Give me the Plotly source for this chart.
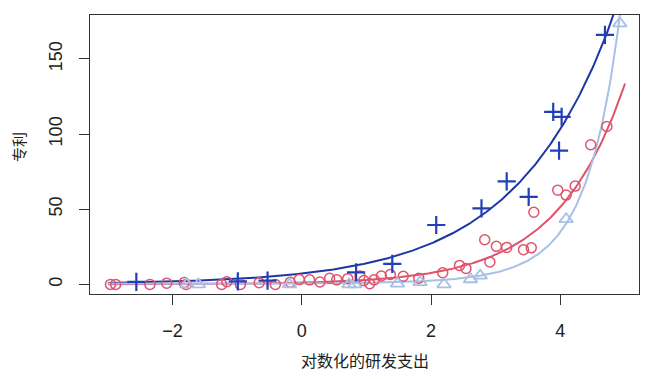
import numpy as np
import plotly.graph_objects as go

# ---- data ----
blue_x = [-2.56, -0.99, -0.53, 0.84, 1.40, 2.08, 2.78, 3.17, 3.51, 3.89, 4.02, 3.98, 4.69]
blue_y = [1.6, 2.0, 2.5, 8.0, 13.7, 39.5, 50.5, 68.5, 58.2, 114.7, 111.4, 89.0, 166.0]

red_x = [-2.96, -2.88, -2.35, -2.09, -1.82, -1.79, -1.24, -1.16, -0.95, -0.66, -0.41,
         -0.18, -0.04, 0.12, 0.28, 0.43, 0.54, 0.71, 0.90, 0.96, 1.05, 1.12, 1.23,
         1.37, 1.57, 1.81, 2.18, 2.44, 2.54, 2.83, 2.91, 3.01, 3.17, 3.43, 3.55,
         3.59, 3.96, 4.09, 4.23, 4.47, 4.72]
red_y = [0.0, 0.0, 0.0, 0.8, 1.2, 0.0, 0.0, 1.8, 0.0, 1.1, 0.0,
         1.4, 3.2, 3.0, 1.6, 4.1, 3.0, 3.8, 5.5, 2.5, 0.5, 3.0, 5.6,
         6.6, 5.4, 4.1, 7.7, 12.6, 10.6, 29.7, 14.9, 25.3, 24.6, 23.1, 24.3,
         48.0, 62.7, 59.4, 65.4, 92.9, 105.1]

light_x = [-1.78, -1.60, -0.19, 0.73, 0.82, 1.48, 1.83, 2.20, 2.61, 2.76, 4.09, 4.92]
light_y = [0.0, 0.0, 0.0, 0.0, 0.0, 0.5, 1.5, 0.0, 3.4, 5.8, 43.4, 173.6]

# fitted log-link curves (coefficients): y = exp(a + b*x + c*x^2)
fit_a = [1.97, 0.12, -0.61]
fit_b = [0.667, 0.955, 0.44]
fit_c = [0.0, 0.0, 0.15]
curve_x_range = [-3.0, 5.0]

x_ticks = [-2, 0, 2, 4]
y_ticks = [0, 50, 100, 150]
x_title = "对数化的研发支出"
y_title = "专利"

# ---- styling ----
blue = "#2140B8"
blue_line = "#1D36A6"
red = "#DF536B"
light = "#A9C0E6"
font_fam = "Liberation Sans, Arial, Noto Sans CJK SC, sans-serif"

# page offset from default body margin (8px)
OFF = 8
W, H = 650 - OFF, 379 - OFF
ML, MR, MT, MB = 90 - OFF, 11, 15 - OFF, 379 - 286 - OFF
plot_w = W - ML - MR
plot_h = H - MT - MB

fig = go.Figure()
xs = np.linspace(curve_x_range[0], curve_x_range[1], 400)
line_cols = [blue_line, red, light]
for a, b, c, col in zip(fit_a, fit_b, fit_c, line_cols):
    fig.add_trace(go.Scatter(x=xs, y=np.exp(a + b * xs + c * xs ** 2), mode="lines",
                             line=dict(color=col, width=2), hoverinfo="skip",
                             showlegend=False))

fig.add_trace(go.Scatter(x=red_x, y=red_y, mode="markers", showlegend=False,
                         marker=dict(symbol="circle-open", size=10, color=red,
                                     line=dict(color=red, width=1.5))))
fig.add_trace(go.Scatter(x=light_x, y=light_y, mode="markers", showlegend=False,
                         marker=dict(symbol="triangle-up-open", size=12, color=light,
                                     line=dict(color=light, width=1.8))))
fig.add_trace(go.Scatter(x=blue_x, y=blue_y, mode="markers", showlegend=False,
                         marker=dict(symbol="cross-thin", size=13, color=blue,
                                     line=dict(color=blue, width=2.2))))

axis_common = dict(showgrid=False, zeroline=False, showline=True, mirror=True,
                   linecolor="#333333", linewidth=1, ticks="outside", ticklen=10,
                   tickcolor="#333333", tickwidth=1, automargin=False,
                   tickfont=dict(family=font_fam, size=18, color="#222222"))

fig.update_layout(
    width=W, height=H,
    margin=dict(l=ML, r=MR, t=MT, b=MB),
    paper_bgcolor="white", plot_bgcolor="white",
    font=dict(family=font_fam, color="#222222"),
    xaxis=dict(range=[-3.277, 5.217], tickvals=x_ticks, ticklabelstandoff=10,
               **axis_common),
    yaxis=dict(range=[-6.4, 179.2], tickvals=y_ticks, tickangle=-90, ticklabelstandoff=10,
               **axis_common),
    annotations=[
        dict(text=x_title, xref="paper", yref="paper", showarrow=False,
             x=0.5, y=(MT + plot_h - (360 - OFF)) / plot_h,
             font=dict(size=16, family="Noto Sans CJK SC", color="#222222"),
             yanchor="middle", xanchor="center"),
        dict(text=y_title, xref="paper", yref="paper", showarrow=False,
             x=((18 - OFF) - ML) / plot_w, y=(MT + plot_h - (147 - OFF)) / plot_h,
             textangle=-90,
             font=dict(size=15, family="Noto Sans CJK SC", color="#222222"),
             yanchor="middle", xanchor="center"),
    ],
)

fig.write_html("out.html")
